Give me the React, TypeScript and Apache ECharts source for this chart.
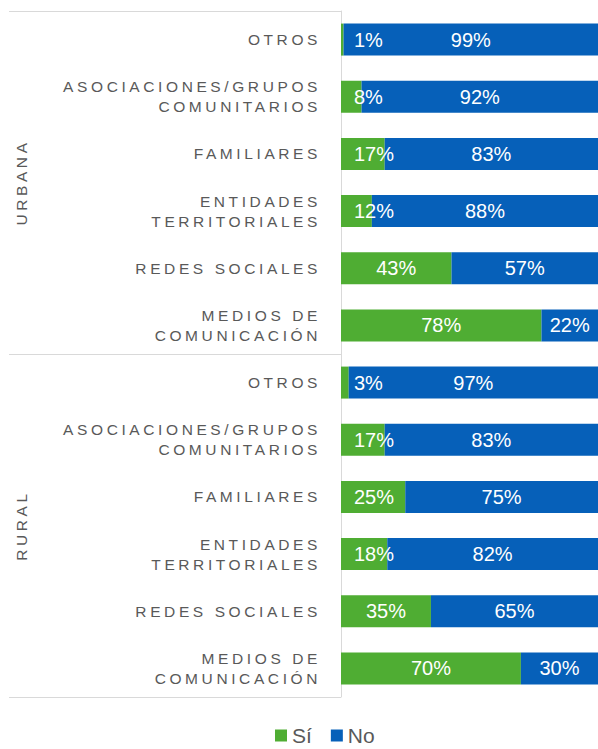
import { useEffect, useRef } from 'react';
import * as echarts from 'echarts';

const categories = [
  'OTROS',
  'ASOCIACIONES/GRUPOS\nCOMUNITARIOS',
  'FAMILIARES',
  'ENTIDADES\nTERRITORIALES',
  'REDES SOCIALES',
  'MEDIOS DE\nCOMUNICACIÓN',
];
const groups = ['URBANA', 'RURAL'];
const siUrbana = [1, 8, 17, 12, 43, 78];
const noUrbana = [99, 92, 83, 88, 57, 22];
const siRural = [3, 17, 25, 18, 35, 70];
const noRural = [97, 83, 75, 82, 65, 30];
const seriesNames = ['Sí', 'No'];

const GREEN = '#4FAD33';
const BLUE = '#0660B9';
const GRAY = '#595959';
const LINE = '#D9D9D9';
const FONT = 'Liberation Sans, Arial, sans-serif';
const LETTER_SPACING = 3.6;

export default function App() {
  const ref = useRef<HTMLDivElement>(null);
  useEffect(() => {
    const el = ref.current!;
    const chart = echarts.init(el, null, { renderer: 'svg' });
    const yCats = [...categories, ...categories];
    const si = [...siUrbana, ...siRural];
    const no = [...noUrbana, ...noRural];

    const siData = si.map((v) => ({
      value: v,
      label: v < 30 ? { position: 'insideLeft', distance: 13 } : { position: 'inside' },
    }));

    const labelStyle = {
      show: true,
      color: '#FFFFFF',
      fontSize: 20,
      fontFamily: FONT,
      formatter: '{c}%',
    };

    chart.setOption({
      animation: false,
      grid: { left: 341, top: 11, width: 259, height: 686, containLabel: false },
      legend: {
        data: seriesNames,
        left: 275,
        top: 725,
        padding: 0,
        itemWidth: 12,
        itemHeight: 12,
        itemGap: 19,
        icon: 'rect',
        textStyle: { fontSize: 21, color: GRAY, fontFamily: FONT },
      },
      xAxis: { type: 'value', min: 0, max: 100, show: false },
      yAxis: [
        {
          type: 'category',
          data: yCats,
          inverse: true,
          position: 'left',
          axisLine: { show: false },
          axisTick: { show: false },
          axisLabel: {
            interval: 0,
            margin: 20,
            color: GRAY,
            fontSize: 15.5,
            lineHeight: 20,
            fontFamily: FONT,
            align: 'right',
          },
        },
        {
          type: 'category',
          data: groups,
          inverse: true,
          position: 'left',
          offset: 0,
          axisLine: { show: true, lineStyle: { color: LINE, width: 1 } },
          axisTick: { show: true, length: 332, lineStyle: { color: LINE, width: 1 } },
          axisLabel: {
            interval: 0,
            rotate: 90,
            margin: 312,
            color: GRAY,
            fontSize: 15.5,
            fontFamily: FONT,
          },
        },
      ],
      series: [
        {
          name: seriesNames[0],
          type: 'bar',
          stack: 'total',
          yAxisIndex: 0,
          barWidth: 32,
          itemStyle: { color: GREEN },
          label: labelStyle,
          data: siData,
        },
        {
          name: seriesNames[1],
          type: 'bar',
          stack: 'total',
          yAxisIndex: 0,
          barWidth: 32,
          itemStyle: { color: BLUE },
          label: { ...labelStyle, position: 'inside' },
          data: no,
        },
      ],
    } as any);

    const spaced = new Set<string>([
      ...categories.flatMap((c) => c.split('\n')),
      ...groups,
    ]);
    const applySpacing = () => {
      el.querySelectorAll('text').forEach((t) => {
        const s = (t.textContent || '').trim();
        if (spaced.has(s)) (t as SVGTextElement).style.letterSpacing = LETTER_SPACING + 'px';
      });
    };
    applySpacing();
    chart.on('finished', applySpacing);
    const raf = requestAnimationFrame(applySpacing);
    return () => {
      cancelAnimationFrame(raf);
      chart.dispose();
    };
  }, []);
  return (
    <div
      ref={ref}
      style={{ position: 'fixed', left: 0, top: 0, width: 598, height: 749, background: '#fff' }}
    />
  );
}
